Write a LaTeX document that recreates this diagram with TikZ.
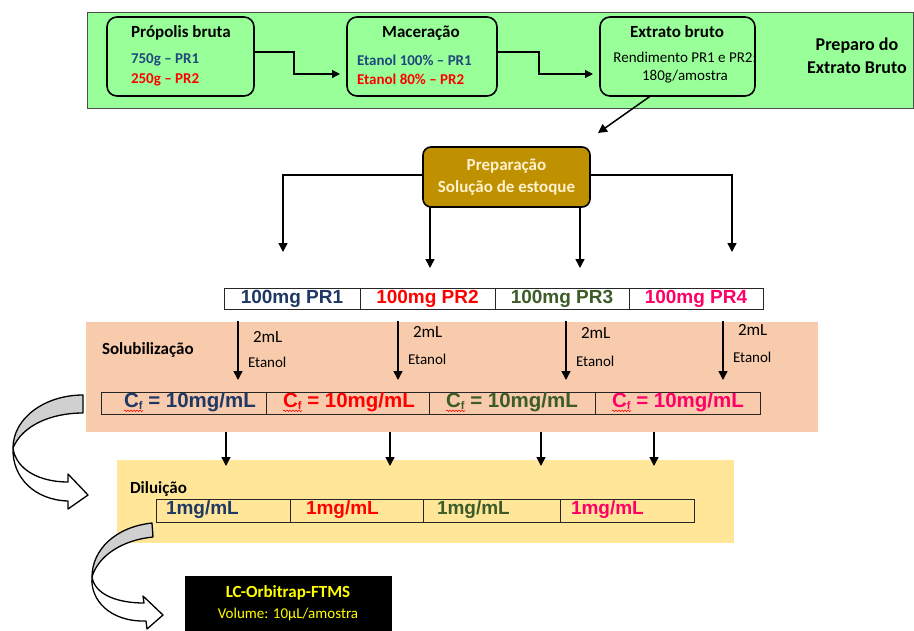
\documentclass[tikz,border=0pt]{standalone}
\usepackage{fontspec}
\setmainfont{Carlito}
\newfontfamily\arialf{Liberation Sans}
\usetikzlibrary{arrows.meta,decorations.pathmorphing,calc}
\definecolor{bgreen}{RGB}{153,255,153}
\definecolor{gold}{RGB}{191,144,0}
\definecolor{cream}{RGB}{255,242,204}
\definecolor{salmon}{RGB}{248,203,173}
\definecolor{lyellow}{RGB}{255,230,153}
\definecolor{navy}{RGB}{31,56,100}
\definecolor{pblue}{RGB}{31,73,125}
\definecolor{dgreen}{RGB}{60,92,40}
\definecolor{pink}{RGB}{255,0,102}
\definecolor{lcyellow}{RGB}{255,255,0}
\definecolor{cgray}{RGB}{208,208,208}
\tikzset{
  every node/.style={inner sep=0pt, outer sep=0pt},
  gbox/.style={draw=black, line width=1.6pt, rounded corners=10pt, fill=bgreen},
  ttl/.style={font=\bfseries\fontsize{17}{21}\selectfont},
  subt/.style={font=\bfseries\fontsize{15}{18}\selectfont, anchor=west},
  arr/.style={line width=1.5pt, -{Triangle[length=9pt,width=9pt]}},
  sarr/.style={line width=1.2pt, -{Triangle[length=8pt,width=8pt]}},
  cell/.style={draw=black!85, line width=1pt, fill=white},
  ccell/.style={draw=black!85, line width=1pt},
  big/.style={font=\arialf\bfseries\fontsize{19}{22}\selectfont},
  bigc/.style={font=\arialf\bfseries\fontsize{20.5}{22}\selectfont},
  lbl/.style={font=\fontsize{17}{20}\selectfont, anchor=west},
  lbls/.style={font=\fontsize{15}{18}\selectfont, anchor=west},
  wave/.style={red, line width=0.6pt, decorate, decoration={snake, amplitude=0.8pt, segment length=3pt}},
  carrow/.style={draw=black, line width=1.3pt, line join=round}
}
\newcommand{\cfx}{C\raisebox{-2.5pt}{\fontsize{11}{11}\selectfont f}}
\begin{document}
\begin{tikzpicture}[x=1pt,y=-1pt]
\useasboundingbox (0,0) rectangle (914,630);
\clip (0,0) rectangle (914,630);

% ---------- top band ----------
\node[fill=bgreen, draw=black!70, line width=0.8pt, minimum width=826pt, minimum height=96pt, anchor=north west] (gband) at (87,12) {};
\node[gbox, minimum width=147pt, minimum height=79pt] (pb) at (180.5,56.5) {};
\node[gbox, minimum width=150pt, minimum height=79pt] (mc) at (422,56.5) {};
\node[gbox, minimum width=155pt, minimum height=79pt] (eb) at (677.5,56.5) {};

\node[ttl] (pbt) at (181,33) {Própolis bruta};
\node[ttl] (mct) at (421,33) {Maceração};
\node[ttl] (ebt) at (677,32) {Extrato bruto};
\node[subt, text=pblue] (pb1) at (131,60) {750g – PR1};
\node[subt, text=red] (pb2) at (131,80) {250g – PR2};
\node[subt, text=pblue] (mc1) at (357,60) {Etanol 100\% – PR1};
\node[subt, text=red] (mc2) at (357,79) {Etanol 80\% – PR2};
\node[font=\fontsize{15}{18}\selectfont] (eb1) at (685,57) {Rendimento PR1 e PR2:};
\node[font=\fontsize{15}{18}\selectfont] (eb2) at (685,77) {180g/amostra};
\node[font=\bfseries\fontsize{18}{23}\selectfont, align=center] (ptitle) at (857,55.5) {Preparo do\\Extrato Bruto};

\draw[sarr] ([yshift=4.5pt]pb.east) -- ++(40,0) |- ([xshift=-7pt,yshift=-17.5pt]mc.west);
\draw[sarr] ([yshift=4.5pt]mc.east) -- ++(42,0) |- ([xshift=-7pt,yshift=-17.5pt]eb.west);

% ---------- preparation ----------
\node[gbox, fill=gold, rounded corners=8pt, minimum width=167pt, minimum height=60pt,
      align=center, text=cream, font=\bfseries\fontsize{17}{22}\selectfont] (pr) at (506.5,177) {Preparação\\Solução de estoque};
\draw[arr] ([xshift=-27pt]eb.south) -- ($(pr.north east)+(8,-14)$);

\coordinate (t1) at (283,252);
\coordinate (t2) at (430,268);
\coordinate (t3) at (580,268);
\coordinate (t4) at (732,252);
\draw[arr] ([yshift=2pt]pr.west) -| (t1);
\draw[arr] ([yshift=2pt]pr.east) -| (t4);
\draw[arr] (pr.south -| t2) -- (t2);
\draw[arr] (pr.south -| t3) -- (t3);

% ---------- 100mg row ----------
\node[cell, big, text=navy, minimum width=136pt, minimum height=21pt] (r1) at (292,298.5) {100mg PR1};
\node[cell, big, text=red, minimum width=135pt, minimum height=21pt] (r2) at (427.5,298.5) {100mg PR2};
\node[cell, big, text=dgreen, minimum width=134pt, minimum height=21pt] (r3) at (562,298.5) {100mg PR3};
\node[cell, big, text=pink, minimum width=134pt, minimum height=21pt] (r4) at (696,298.5) {100mg PR4};

% ---------- bands ----------
\node[fill=salmon, minimum width=732pt, minimum height=110pt, anchor=north west] (sb) at (86,322) {};
\node[fill=lyellow, minimum width=617pt, minimum height=83pt, anchor=north west] (yb) at (117,460) {};

\node[font=\bfseries\fontsize{17}{19}\selectfont, anchor=west] (solt) at (102,350) {Solubilização};

\coordinate (s1a) at (238,321); \coordinate (s1b) at (238,380);
\coordinate (s2a) at (398,321); \coordinate (s2b) at (398,380);
\coordinate (s3a) at (566,321); \coordinate (s3b) at (566,380);
\coordinate (s4a) at (723,321); \coordinate (s4b) at (723,380);
\draw[arr] (s1a) -- (s1b);
\draw[arr] (s2a) -- (s2b);
\draw[arr] (s3a) -- (s3b);
\draw[arr] (s4a) -- (s4b);
\node[lbl] (m1) at (253,337) {2mL};
\node[lbls] (e1) at (248,362) {Etanol};
\node[lbl] (m2) at (413,332) {2mL};
\node[lbls] (e2) at (408,359) {Etanol};
\node[lbl] (m3) at (581,333) {2mL};
\node[lbls] (e3) at (576,361) {Etanol};
\node[lbl] (m4) at (738,330) {2mL};
\node[lbls] (e4) at (733,357) {Etanol};

% Cf row
\node[ccell, minimum width=165pt, minimum height=22pt] (c1) at (183.5,403) {};
\node[ccell, minimum width=163pt, minimum height=22pt] (c2) at (347.5,403) {};
\node[ccell, minimum width=166pt, minimum height=22pt] (c3) at (512,403) {};
\node[ccell, minimum width=165pt, minimum height=22pt] (c4) at (677.5,403) {};
\node[bigc, text=navy] (ct1) at (190,402) {\cfx{} = 10mg/mL};
\node[bigc, text=red] (ct2) at (349,402) {\cfx{} = 10mg/mL};
\node[bigc, text=dgreen] (ct3) at (512,402) {\cfx{} = 10mg/mL};
\node[bigc, text=pink] (ct4) at (678,402) {\cfx{} = 10mg/mL};
\draw[wave] ([yshift=-3.5pt]ct1.base west) -- ++(19,0);
\draw[wave] ([yshift=-3.5pt]ct2.base west) -- ++(19,0);
\draw[wave] ([yshift=-3.5pt]ct3.base west) -- ++(19,0);
\draw[wave] ([yshift=-3.5pt]ct4.base west) -- ++(19,0);

% arrows to dilution
\coordinate (u1a) at (226,432); \coordinate (u1b) at (226,466);
\coordinate (u2a) at (390,432); \coordinate (u2b) at (390,466);
\coordinate (u3a) at (541,432); \coordinate (u3b) at (541,466);
\coordinate (u4a) at (654,432); \coordinate (u4b) at (654,466);
\draw[arr] (u1a) -- (u1b);
\draw[arr] (u2a) -- (u2b);
\draw[arr] (u3a) -- (u3b);
\draw[arr] (u4a) -- (u4b);

\node[font=\bfseries\fontsize{17}{20}\selectfont, anchor=west] (dilt) at (130,489) {Diluição};
\node[ccell, minimum width=134pt, minimum height=23pt] (d1) at (223,510.5) {};
\node[ccell, minimum width=133pt, minimum height=23pt] (d2) at (356.5,510.5) {};
\node[ccell, minimum width=137pt, minimum height=23pt] (d3) at (491.5,510.5) {};
\node[ccell, minimum width=134pt, minimum height=23pt] (d4) at (627,510.5) {};
\node[big, text=navy, anchor=west] (dt1) at (166,510) {1mg/mL};
\node[big, text=red, anchor=west] (dt2) at (306,510) {1mg/mL};
\node[big, text=dgreen, anchor=west] (dt3) at (437,510) {1mg/mL};
\node[big, text=pink, anchor=west] (dt4) at (571,510) {1mg/mL};

% ---------- curved arrows ----------
\filldraw[carrow, fill=cgray] (83,395) .. controls (45,395) and (13,418) .. (13,448)
   .. controls (22,426) and (50,413) .. (83,413) -- cycle;
\filldraw[carrow, fill=white] (13,448) .. controls (16,470) and (40,482) .. (68,482)
   -- (68,474) -- (88,495) -- (68,509) -- (68,501)
   .. controls (35,500) and (12,478) .. (13,448) -- cycle;

\filldraw[carrow, fill=cgray] (152,523) .. controls (115,527) and (92,550) .. (92,577)
   .. controls (98,556) and (122,540) .. (153,537) -- cycle;
\filldraw[carrow, fill=white] (92,577) .. controls (95,595) and (118,603) .. (144,603)
   -- (143,596) -- (163,615) -- (147,629) -- (146,621)
   .. controls (110,622) and (90,600) .. (92,577) -- cycle;

% ---------- LC box ----------
\node[fill=black, minimum width=207pt, minimum height=60pt, anchor=north west] (lc) at (185,576) {};
\node[font=\bfseries\fontsize{17}{20}\selectfont, text=lcyellow] (lct1) at (288,593) {LC-Orbitrap-FTMS};
\node[font=\fontsize{15}{18}\selectfont, text=lcyellow] (lct2) at (288,614) {Volume: 10µL/amostra};
\end{tikzpicture}
\end{document}
